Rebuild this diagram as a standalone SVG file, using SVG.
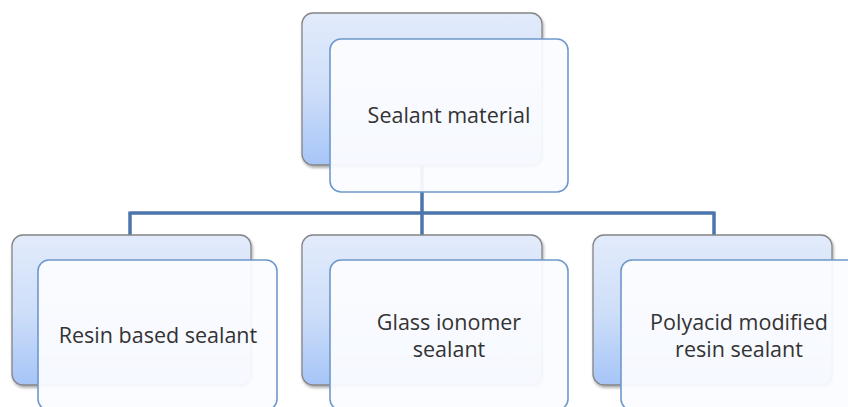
<svg xmlns="http://www.w3.org/2000/svg" width="848" height="407" viewBox="0 0 848 407">
<defs>
<linearGradient id="bg" x1="0" y1="0" x2="0" y2="1">
<stop offset="0" stop-color="#e2ebfb"/>
<stop offset="0.5" stop-color="#cfdff9"/>
<stop offset="1" stop-color="#a6c5f7"/>
</linearGradient>
<filter id="sh" x="-10%" y="-10%" width="125%" height="125%">
<feGaussianBlur in="SourceAlpha" stdDeviation="1.5"/>
<feOffset dx="1" dy="2" result="b"/>
<feComponentTransfer><feFuncA type="linear" slope="0.35"/></feComponentTransfer>
<feMerge><feMergeNode/><feMergeNode in="SourceGraphic"/></feMerge>
</filter>
</defs>
<style>
.back{fill:url(#bg);stroke:#858585;stroke-width:1.3;filter:url(#sh)}
.front{fill:#fbfcff;fill-opacity:0.94;stroke:#6e98cc;stroke-width:1.6}
.conn{fill:none;stroke:#4b75ab;stroke-width:3.5}
text{font-family:"Open Sans","Liberation Sans",sans-serif;font-size:21.5px;fill:#333333;text-anchor:middle}
</style>
<g id="connectors">
<path class="conn" d="M422 165 V213 M130 213 H714 M130 211.5 V235 M422 213 V235 M714 211.5 V235"/>
</g>
<g id="node-sealant-material">
<rect class="back" x="302" y="13" width="240" height="152" rx="11"/>
<rect class="front" x="330" y="39" width="238" height="153" rx="11"/>
<text x="449" y="123">Sealant material</text>
</g>
<g id="node-resin-based">
<rect class="back" x="12" y="235" width="239" height="150" rx="11"/>
<rect class="front" x="38" y="260" width="239" height="150" rx="11"/>
<text x="158" y="343">Resin based sealant</text>
</g>
<g id="node-glass-ionomer">
<rect class="back" x="302" y="235" width="240" height="150" rx="11"/>
<rect class="front" x="330" y="260" width="238" height="150" rx="11"/>
<text x="449" y="330">Glass ionomer</text>
<text x="449" y="357">sealant</text>
</g>
<g id="node-polyacid">
<rect class="back" x="593" y="235" width="239" height="150" rx="11"/>
<rect class="front" x="621" y="260" width="239" height="150" rx="11"/>
<text x="739" y="330">Polyacid modified</text>
<text x="739" y="357">resin sealant</text>
</g>
</svg>
